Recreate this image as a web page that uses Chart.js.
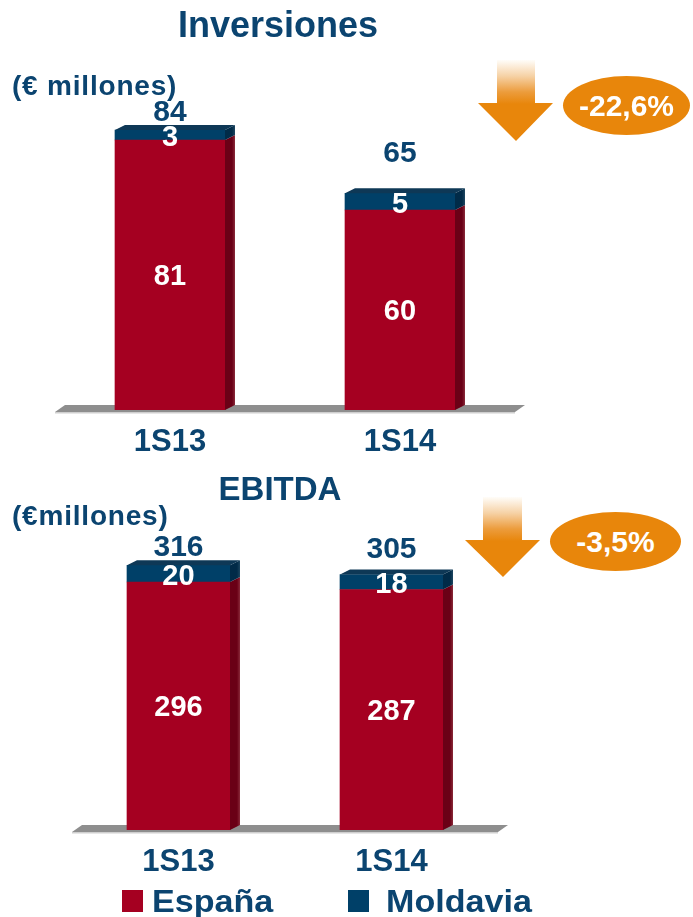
<!DOCTYPE html>
<html>
<head>
<meta charset="utf-8">
<script src="https://cdn.jsdelivr.net/npm/chart.js"></script>
<style>
  body { margin: 0; background: #fff; }
  #page { position: relative; width: 693px; height: 917px; overflow: hidden; font-family: "Liberation Sans", Arial, sans-serif; font-weight: bold; color: #0B4470; }
  #page canvas { position: absolute; left: 0; }
  .txt { position: absolute; white-space: nowrap; line-height: 1; }
  .arrow { position: absolute; width: 75px; }
  .badge { position: absolute; background: #E8860B; border-radius: 50%; color: #fff; font-size: 30px; display: flex; align-items: center; justify-content: center; }
  .sw { position: absolute; width: 21px; height: 22px; }
</style>
</head>
<body>
<div id="page">
  <canvas id="inv-chart" style="top:0" width="693" height="470"></canvas>
  <canvas id="ebitda-chart" style="top:460px" width="693" height="430"></canvas>

  <div class="txt" style="left:78px;width:400px;text-align:center;top:7px;font-size:36px">Inversiones</div>
  <div class="txt" style="left:12px;top:72px;font-size:28px;letter-spacing:0.8px">(€ millones)</div>
  <div class="txt" style="left:80px;width:400px;text-align:center;top:472px;font-size:33px">EBITDA</div>
  <div class="txt" style="left:12px;top:502px;font-size:28px;letter-spacing:0.8px">(€millones)</div>

  <div class="arrow" style="left:478px;top:60px;height:81px;clip-path:polygon(19px 0,57px 0,57px 43px,75px 43px,38px 81px,0 43px,19px 43px);background:linear-gradient(to bottom,#fffdf9 0px,#f6d2a6 16px,#ec9c3c 32px,#E8860B 44px)"></div>
  <div class="badge" style="left:563px;top:76px;width:127px;height:59px">-22,6%</div>

  <div class="arrow" style="left:465px;top:497px;height:80px;clip-path:polygon(18px 0,57px 0,57px 43px,75px 43px,38px 80px,0 43px,18px 43px);background:linear-gradient(to bottom,#fffdf9 0px,#f6d2a6 16px,#ec9c3c 32px,#E8860B 44px)"></div>
  <div class="badge" style="left:550px;top:512px;width:131px;height:59px">-3,5%</div>

  <div class="sw" style="left:122px;top:890px;background:#A50021"></div>
  <div class="txt" style="left:152px;top:886px;font-size:31px;transform:scaleX(1.1);transform-origin:left">España</div>
  <div class="sw" style="left:348px;top:890px;background:#004068"></div>
  <div class="txt" style="left:386px;top:886px;font-size:31px;transform:scaleX(1.1);transform-origin:left">Moldavia</div>
</div>

<script>
const categories = ["1S13", "1S14"];
const seriesNames = ["España", "Moldavia"];
const invEspana = [81, 60];
const invMoldavia = [3, 5];
const ebitdaEspana = [296, 287];
const ebitdaMoldavia = [20, 18];

const RED = "#A50021";
const NAVY = "#004068";
const TEXT = "#0B4470";
const FONT = "'Liberation Sans', Arial, sans-serif";
const DEPTH_X = 10;
const DEPTH_Y = 5;

Chart.defaults.font.family = FONT;

// floor slab under the bars
const floorPlugin = {
  id: "floor",
  beforeDatasetsDraw(chart) {
    const { ctx, chartArea } = chart;
    const base = chart.scales.y.getPixelForValue(0);
    ctx.save();
    ctx.fillStyle = "#8E8E8E";
    ctx.beginPath();
    ctx.moveTo(chartArea.left, base + 2);
    ctx.lineTo(chartArea.left + DEPTH_X, base - 5);
    ctx.lineTo(chartArea.right + DEPTH_X, base - 5);
    ctx.lineTo(chartArea.right, base + 2);
    ctx.closePath();
    ctx.fill();
    ctx.fillStyle = "#CFCFCF";
    ctx.fillRect(chartArea.left, base + 2, chartArea.right - chartArea.left, 1.5);
    ctx.restore();
  }
};

// side and top faces, then value labels
const boxPlugin = {
  id: "box3d",
  afterDatasetsDraw(chart, args, opts) {
    const { ctx } = chart;
    const sideColors = ["#6A0016", "#012B48"];
    const last = chart.data.datasets.length - 1;
    ctx.save();
    chart.data.datasets.forEach((ds, di) => {
      chart.getDatasetMeta(di).data.forEach((bar) => {
        const p = bar.getProps(["x", "y", "base", "width"], true);
        const right = p.x + p.width / 2;
        const left = p.x - p.width / 2;
        const top = Math.min(p.y, p.base);
        const bottom = Math.max(p.y, p.base);
        const grad = ctx.createLinearGradient(right, 0, right + DEPTH_X, 0);
        grad.addColorStop(0, sideColors[di]);
        grad.addColorStop(0.7, sideColors[di]);
        grad.addColorStop(1, di === 0 ? "#8A2A3A" : "#1E4660");
        ctx.fillStyle = grad;
        ctx.beginPath();
        ctx.moveTo(right, top);
        ctx.lineTo(right + DEPTH_X, top - DEPTH_Y);
        ctx.lineTo(right + DEPTH_X, bottom - DEPTH_Y);
        ctx.lineTo(right, bottom);
        ctx.closePath();
        ctx.fill();
        if (di === last) {
          ctx.fillStyle = "#0E3856";
          ctx.beginPath();
          ctx.moveTo(left, top);
          ctx.lineTo(left + DEPTH_X, top - DEPTH_Y);
          ctx.lineTo(right + DEPTH_X, top - DEPTH_Y);
          ctx.lineTo(right, top);
          ctx.closePath();
          ctx.fill();
        }
      });
    });

    ctx.textAlign = "center";
    ctx.textBaseline = "middle";
    chart.data.datasets.forEach((ds, di) => {
      chart.getDatasetMeta(di).data.forEach((bar, i) => {
        const p = bar.getProps(["x", "y", "base"], true);
        const h = Math.abs(p.base - p.y);
        ctx.fillStyle = "#fff";
        ctx.font = "bold 29px " + FONT;
        ctx.fillText(String(ds.data[i]), p.x, (p.y + p.base) / 2 + (h < 30 ? 3 : 2));
      });
    });

    const topMeta = chart.getDatasetMeta(last);
    ctx.fillStyle = TEXT;
    ctx.font = "bold 30px " + FONT;
    topMeta.data.forEach((bar, i) => {
      const total = chart.data.datasets.reduce((s, ds) => s + ds.data[i], 0);
      ctx.fillText(String(total), bar.x, bar.y - opts.lift[i]);
    });
    ctx.restore();
  }
};

function makeChart(canvasId, espana, moldavia, yMax, barWidth, pad, lift) {
  return new Chart(document.getElementById(canvasId), {
    type: "bar",
    data: {
      labels: categories,
      datasets: [
        { label: seriesNames[0], data: espana, backgroundColor: RED, barThickness: barWidth },
        { label: seriesNames[1], data: moldavia, backgroundColor: NAVY, barThickness: barWidth }
      ]
    },
    options: {
      responsive: false,
      animation: false,
      layout: { padding: pad },
      plugins: {
        legend: { display: false },
        tooltip: { enabled: false },
        box3d: { lift: lift }
      },
      scales: {
        x: {
          stacked: true,
          grid: { display: false, drawTicks: false },
          border: { display: false },
          ticks: { color: TEXT, padding: 14, font: { size: 31, weight: "bold" } },
          afterFit: (s) => { s.height = 60; }
        },
        y: { stacked: true, display: false, min: 0, max: yMax }
      }
    },
    plugins: [floorPlugin, boxPlugin]
  });
}

makeChart("inv-chart", invEspana, invMoldavia, 93, 110,
  { left: 55, right: 178, top: 100, bottom: 0 }, [17, 40]);
makeChart("ebitda-chart", ebitdaEspana, ebitdaMoldavia, 370, 103,
  { left: 72, right: 195, top: 60, bottom: 0 }, [18, 25]);
</script>
</body>
</html>
